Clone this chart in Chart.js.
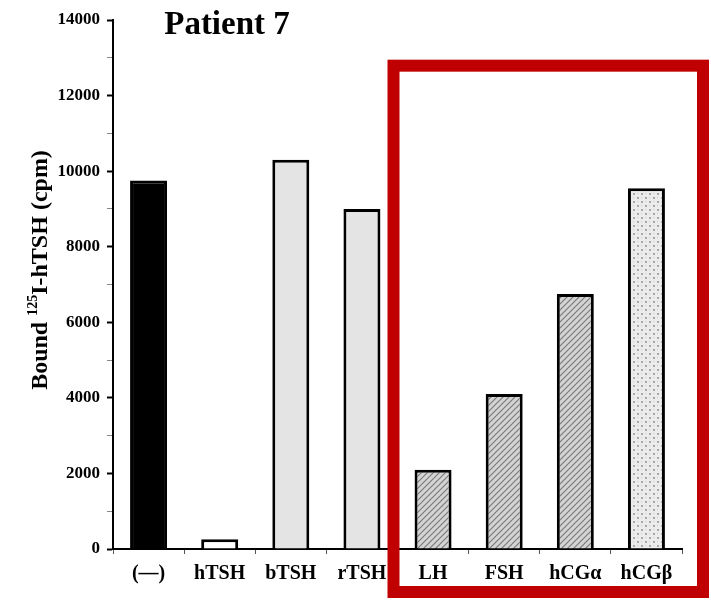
<!DOCTYPE html>
<html>
<head>
<meta charset="utf-8">
<script src="https://cdn.jsdelivr.net/npm/chart.js@4"></script>
<style>
  html, body { margin: 0; padding: 0; background: #fff; }
  #wrap { width: 711px; height: 600px; }
</style>
</head>
<body>
<div id="wrap"><canvas id="chart" width="711" height="600"></canvas></div>
<script>
var categories = ['(\u2014)', 'hTSH', 'bTSH', 'rTSH', 'LH', 'FSH', 'hCG\u03b1', 'hCG\u03b2'];
var boundValues = [9750, 260, 10300, 9000, 2100, 4100, 6750, 9550];
var yTicks = [0, 2000, 4000, 6000, 8000, 10000, 12000, 14000];

var serif = '"Liberation Serif", "Times New Roman", serif';

function hatchPattern() {
    var c = document.createElement('canvas');
    c.width = 6; c.height = 6;
    var g = c.getContext('2d');
    g.fillStyle = '#d4d4d4';
    g.fillRect(0, 0, 6, 6);
    g.strokeStyle = '#7a7a7a';
    g.lineWidth = 1.2;
    g.beginPath();
    g.moveTo(0, 6); g.lineTo(6, 0);
    g.moveTo(-3, 3); g.lineTo(3, -3);
    g.moveTo(3, 9); g.lineTo(9, 3);
    g.stroke();
    return g.createPattern(c, 'repeat');
}

function dotPattern() {
    var c = document.createElement('canvas');
    c.width = 8; c.height = 8;
    var g = c.getContext('2d');
    g.fillStyle = '#ececec';
    g.fillRect(0, 0, 8, 8);
    g.fillStyle = '#a8a8a8';
    g.fillRect(1, 1, 2, 2);
    g.fillRect(5, 5, 2, 2);
    g.fillStyle = '#c8c8c8';
    g.fillRect(5, 1, 1, 1);
    g.fillRect(1, 5, 1, 1);
    return g.createPattern(c, 'repeat');
}

var hatch = hatchPattern();
var dots = dotPattern();
var fills = ['#000000', '#ffffff', '#e4e4e4', '#e4e4e4', hatch, hatch, hatch, dots];

var overlay = {
    id: 'overlay',
    afterDraw: function(chart) {
        var ctx = chart.ctx;
        var area = chart.chartArea;
        var x = chart.scales.x;
        var y = chart.scales.y;

        // title inside the plot
        ctx.save();
        ctx.fillStyle = '#000';
        ctx.font = 'bold 33px ' + serif;
        ctx.textAlign = 'center';
        ctx.textBaseline = 'middle';
        ctx.fillText('Patient 7', 227, 25);
        ctx.restore();

        // y axis title with superscript
        ctx.save();
        ctx.translate(41, 270);
        ctx.rotate(-Math.PI / 2);
        ctx.fillStyle = '#000';
        ctx.textBaseline = 'middle';
        var big = 'bold 24px ' + serif;
        var small = 'bold 14px ' + serif;
        var parts = [['Bound ', big, 0], ['125', small, -8], ['I-hTSH (cpm)', big, 0]];
        var total = 0;
        parts.forEach(function(p) { ctx.font = p[1]; total += ctx.measureText(p[0]).width; });
        var cx = -total / 2;
        parts.forEach(function(p) {
            ctx.font = p[1];
            ctx.fillText(p[0], cx, p[2]);
            cx += ctx.measureText(p[0]).width;
        });
        ctx.restore();

        // red highlight box around LH..hCGb
        var half = (x.getPixelForValue(1) - x.getPixelForValue(0)) / 2;
        var left = x.getPixelForValue(4) - half - 10;
        var right = area.right + 27;
        var top = y.getPixelForValue(12950);
        var bottom = chart.height - 2;
        ctx.save();
        ctx.strokeStyle = '#c00000';
        ctx.lineWidth = 12;
        ctx.strokeRect(left + 6, top + 6, right - left - 12, bottom - top - 12);
        ctx.restore();
    }
};

new Chart(document.getElementById('chart'), {
    type: 'bar',
    data: {
        labels: categories,
        datasets: [{
            data: boundValues,
            backgroundColor: fills,
            borderColor: '#000',
            borderWidth: 3,
            borderSkipped: 'bottom',
            categoryPercentage: 1,
            barPercentage: 0.52
        }]
    },
    options: {
        responsive: false,
        animation: false,
        layout: { padding: { top: 20, right: 29, left: 0, bottom: 0 } },
        plugins: {
            legend: { display: false },
            tooltip: { enabled: false }
        },
        scales: {
            x: {
                grid: {
                    offset: true,
                    drawOnChartArea: false,
                    tickLength: 5,
                    tickColor: '#555',
                    tickWidth: 1
                },
                border: { color: '#000', width: 2 },
                ticks: {
                    color: '#000',
                    font: { family: serif, size: 20, weight: 'bold' },
                    padding: 8,
                    maxRotation: 0
                },
                afterFit: function(scale) { scale.height = 51; }
            },
            y: {
                min: 0,
                max: 14000,
                afterBuildTicks: function(scale) {
                    var t = [];
                    for (var v = 0; v <= 14000; v += 1000) t.push({ value: v });
                    scale.ticks = t;
                },
                grid: {
                    drawOnChartArea: false,
                    tickLength: 6,
                    tickColor: function(c) { return c.tick.value % 2000 === 0 ? '#000' : '#888'; },
                    tickWidth: function(c) { return c.tick.value % 2000 === 0 ? 2 : 1; }
                },
                border: { color: '#000', width: 2 },
                ticks: {
                    color: '#000',
                    font: { family: serif, size: 17, weight: 'bold' },
                    padding: 7,
                    callback: function(v) { return yTicks.indexOf(v) >= 0 ? v : ''; }
                },
                afterFit: function(scale) { scale.width = 113; }
            }
        }
    },
    plugins: [overlay]
});
</script>
</body>
</html>
